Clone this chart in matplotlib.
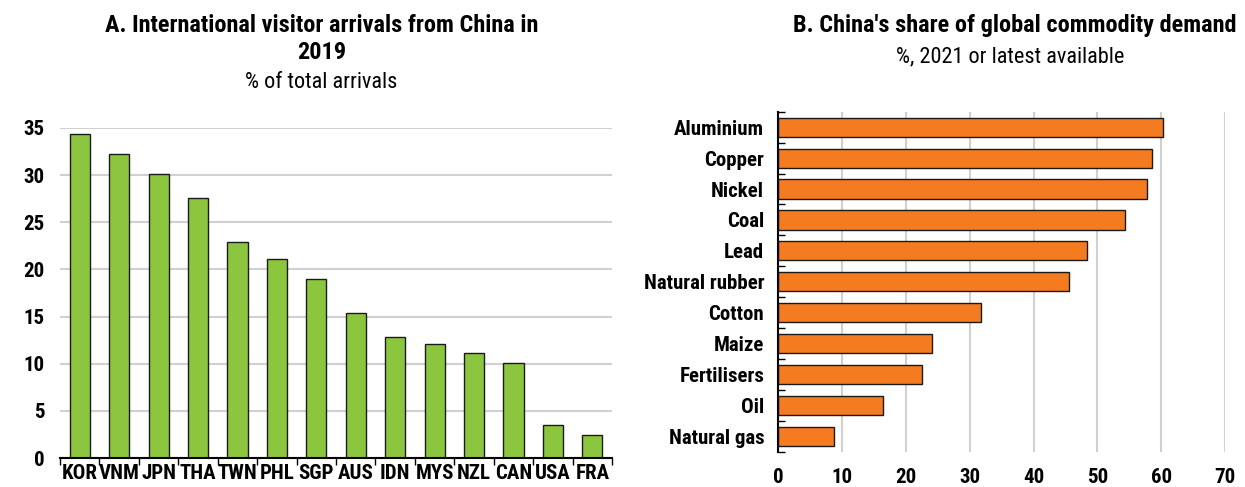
import matplotlib
matplotlib.use("Agg")
import matplotlib.pyplot as plt
import numpy as np
from matplotlib import font_manager

bold_names = {f.name for f in font_manager.fontManager.ttflist if f.weight in (700, 'bold')}
FONT = 'Liberation Sans'
for cand in ['Liberation Sans Narrow', 'Arial Narrow', 'Roboto Condensed', 'Archivo Narrow',
             'IBM Plex Sans Condensed', 'Open Sans Condensed', 'PT Sans Narrow',
             'DejaVu Sans Condensed']:
    if cand in bold_names:
        FONT = cand
        break
plt.rcParams['font.family'] = [FONT, 'DejaVu Sans']

countries = ["KOR", "VNM", "JPN", "THA", "TWN", "PHL", "SGP", "AUS", "IDN", "MYS", "NZL", "CAN", "USA", "FRA"]
arrivals = [34.3, 32.2, 30.1, 27.6, 22.9, 21.1, 19.0, 15.4, 12.8, 12.1, 11.1, 10.1, 3.5, 2.4]

commodities = ["Aluminium", "Copper", "Nickel", "Coal", "Lead", "Natural rubber", "Cotton",
               "Maize", "Fertilisers", "Oil", "Natural gas"]
share = [60.2, 58.5, 57.7, 54.3, 48.3, 45.6, 31.8, 24.1, 22.5, 16.4, 8.7]

GREEN = "#8CC63F"
ORANGE = "#F47B20"
GRID = "#D0D0D0"
TICK_FS = 15
TITLE_FS = 17.5

fig = plt.figure(figsize=(12.45, 4.87), dpi=100)

# Panel A
axA = fig.add_axes([0.0482, 0.0595, 0.4434, 0.678])
x = np.arange(len(countries))
axA.bar(x, arrivals, width=0.51, color=GREEN, edgecolor="#1a1a1a", linewidth=1.0, zorder=3)
axA.set_xlim(-0.5, len(countries) - 0.5)
axA.set_ylim(0, 35)
axA.set_yticks(np.arange(0, 36, 5))
axA.yaxis.grid(True, color=GRID, linewidth=1.5, zorder=0)
axA.set_xticks(x)
axA.set_xticklabels(countries)
axA.set_xticks(np.arange(-0.5, len(countries), 1.0), minor=True)
axA.tick_params(axis='x', which='major', length=0, pad=4, labelsize=TICK_FS)
axA.tick_params(axis='x', which='minor', length=5, width=1, direction='out', color='black')
axA.tick_params(axis='y', length=0, pad=11, labelsize=TICK_FS)
for lab in axA.get_xticklabels() + axA.get_yticklabels():
    lab.set_fontweight('bold')
for s in ['top', 'right', 'left']:
    axA.spines[s].set_visible(False)
axA.spines['bottom'].set_linewidth(1.5)
axA.spines['bottom'].set_zorder(4)

fig.text(0.258, 0.947, "A. International visitor arrivals from China in", ha='center', va='center',
         fontsize=TITLE_FS, fontweight='bold')
fig.text(0.258, 0.893, "2019", ha='center', va='center', fontsize=TITLE_FS, fontweight='bold')
fig.text(0.258, 0.830, "% of total arrivals", ha='center', va='center', fontsize=16)

# Panel B
axB = fig.add_axes([0.625, 0.0725, 0.359, 0.698])
y = np.arange(len(commodities))
axB.barh(y, share, height=0.62, color=ORANGE, edgecolor="#1a1a1a", linewidth=1.0, zorder=3)
axB.set_ylim(len(commodities) - 0.5, -0.5)
axB.set_xlim(0, 70)
axB.set_xticks(np.arange(0, 71, 10))
axB.xaxis.grid(True, color=GRID, linewidth=1.5, zorder=0)
axB.set_yticks(y)
axB.set_yticklabels(commodities)
axB.set_yticks(np.arange(-0.5, len(commodities), 1.0), minor=True)
axB.tick_params(axis='y', which='major', length=0, pad=10, labelsize=TICK_FS)
axB.tick_params(axis='y', which='minor', length=5, width=1, direction='in', color='black')
axB.tick_params(axis='x', length=0, pad=12, labelsize=TICK_FS)
for lab in axB.get_xticklabels() + axB.get_yticklabels():
    lab.set_fontweight('bold')
for s in ['top', 'right', 'bottom']:
    axB.spines[s].set_visible(False)
axB.spines['left'].set_linewidth(1.5)
axB.spines['left'].set_zorder(4)

fig.text(0.815, 0.947, "B. China's share of global commodity demand", ha='center', va='center',
         fontsize=TITLE_FS, fontweight='bold')
fig.text(0.811, 0.884, "%, 2021 or latest available", ha='center', va='center', fontsize=16)

fig.savefig("out.png", dpi=100)
